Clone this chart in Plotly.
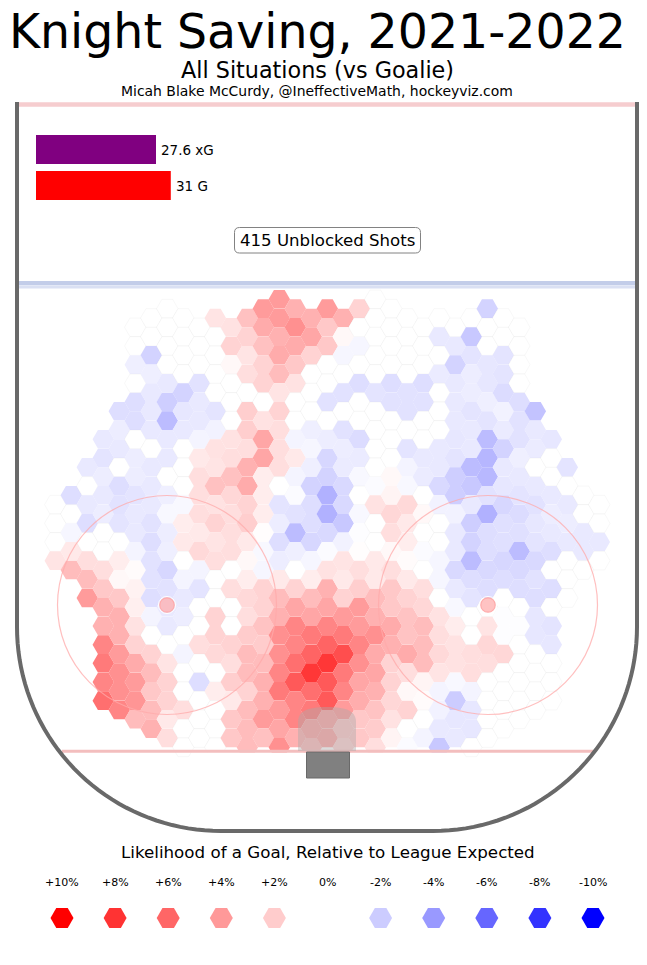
import numpy as np
import plotly.graph_objects as go

# ---------- data ----------
title = "Knight Saving, 2021-2022"
subtitle = "All Situations (vs Goalie)"
credit = "Micah Blake McCurdy, @IneffectiveMath, hockeyviz.com"
legend_title = "Likelihood of a Goal, Relative to League Expected"
shots_label = "415 Unblocked Shots"
bar_labels = ["xG", "G"]
bar_values = [27.6, 31]
bar_text = ["27.6 xG", "31 G"]
legend_values = [10, 8, 6, 4, 2, 0, -2, -4, -6, -8, -10]
legend_labels = ["+10%", "+8%", "+6%", "+4%", "+2%", "0%", "-2%", "-4%", "-6%", "-8%", "-10%"]

# columns of the hexagon grid, left to right; values are percent vs league
column_ids = list(range(-17, 18))
first_rows = [11, 10, 9, 7, 6, 1, 1, 0, 1, 1, 1, 1, 1, 0, 0, 0, 1, 0, 1, 0, 0, 0, 1, 1, 1, 1, 1, 0, 1, 1, 6, 7, 9, 10, 11]
col_m17 = [0, 0, 0, 1.2]
col_m16 = [-1.5, 0, -0.4, 1, 3.0]
col_m15 = [-1, 0, -1, -1.5, 0, 1.5, 3, 4.5]
col_m14 = [-1, -1.2, -0.8, -1, -0.8, 0, 0, 1.5, 2.5, 3.5, 3.5, 5.5, 6, 5.5, 6.5]
col_m13 = [-1.5, -0.8, -1, 0, -1.5, -1.3, -1.2, 0, 0.8, 0.3, 2.5, 3.5, 3.5, 4.5, 5, 5, 5.5]
col_m12 = [0, 0, -0.7, 0, -1.5, -1.5, 0, -0.8, -0.8, -1.2, -1, -1, -0.5, 0.2, 0.6, 0.7, 1.3, 2, 3.8, 4.5, 4.8, 3]
col_m11 = [0, 0, -2, -0.7, -1, -1, -1, 0, -1, -1, -1, -1.3, -1.5, -1.3, -1.3, -1.5, -0.5, 0, 2, 3, 2.5, 3, 3.5]
col_m10 = [0, 0, 0, 0, -1, -2.2, -3, -1, -1, 0, -0.7, -0.3, -0.8, -0.7, -1.8, -1.3, -1, -1, 0, 1.2, 2, 2, 1, 1.5]
col_m9 = [0, 0, 0, 0, -2, -1.1, -1, 0, 0, 0, -0.3, 0.8, 1, 0, -0.5, -1, -0.8, 0, -0.5, 0, 0, 1.5, 0, 0]
col_m8 = [0, 0, 0, -1.3, -1, -1, -0.5, 1, 1.5, 1.5, 1.5, 1, 1.7, -0.5, -1.2, 0, 0, 1.5, 0, -1.5, 0, 0, 0]
col_m7 = [1.2, 0, 0, 0, 0, -1.2, -0.6, 1.3, 1.2, 2.8, 1.3, 2, 1.2, 1.5, 0, 0, 2, 2, 1.7, 0, 0.8, 0, 0, 0]
col_m6 = [1.3, 2, 0.3, 0, 0, 0, 1.3, 1.5, 2.8, 1.8, 1.5, 1.5, 1.5, 0, 1.5, 0, 0, 2, 1.5, 2.2, 1, 2.5, 2.5]
col_m5 = [2.8, 2, 1.2, 1.5, 0, 2.2, 2.2, 1.5, 3.5, 3.8, 2, 2.2, 1, 0.3, 0.8, 1.7, 1.5, 2.3, 3, 3, 2, 3, 3, 3]
col_m4 = [4.5, 3.8, 2.8, 2, 2, 0, 1.3, 4, 4, 0.8, 0.8, 0.8, 0.1, -0.3, -0.4, 2, 2, 2.7, 2.3, 3, 3.5, 3.5, 4.5, 2.8]
col_m3 = [4.5, 4.5, 3.5, 3.8, 3, 1.2, 2, 1.5, 1.5, 1.5, 0, -1.2, -0.8, -1.5, -0.8, 1, 3, 3.5, 5, 5, 5.5, 6, 4.5, 4, 5]
col_m2 = [3.5, 5, 3.8, 2.5, 1.3, 0, 0, -0.5, 1, -0.5, -0.2, -1.3, -3, -0.7, 0, 2, 4, 5.5, 5.5, 6.5, 7.5, 5.5, 5.5, 3.5]
col_m1 = [3.5, 4, 2, 0, 0, 0, -0.7, -0.4, -0.7, -2, -1.5, -1.5, -1.8, -0.4, 0.8, 3, 4, 6, 7, 9, 6.5, 6, 4, 3]
col_0 = [4.5, 2.5, 2.5, 0, 0, -1.3, 0, -0.8, -1.8, -2, -3.5, -3.5, -1.7, -0.2, 1.3, 3.5, 4, 5.5, 7, 9, 7.5, 7.5, 4, 4]
col_p1 = [3.5, 0.3, -0.4, 0, -1.3, 0, -1.3, -0.8, -0.9, -1.7, -1.7, -2.5, -0.6, 1.2, 1, 2, 4.5, 6, 8, 6, 5.5, 4.5, 2.5, 2]
col_p2 = [2, 0, -0.4, 0, -1.5, 0, 0, -1.6, -0.9, -0.3, 0, -0.3, -0.1, 0.1, 1.5, 2.2, 4.5, 4.5, 5.5, 5, 4, 3.7, 2.5, 2.5]
col_p3 = [0, 0, 0, 0, 0, -1.2, 0, 0, 0, 0, -0.2, 1.3, 0, 0, 1, 1, 3, 3.5, 5, 3.8, 4, 3.5, 2.7, 2.3, 1.5]
col_p4 = [0, 0, 0, 0, -1.5, -1.3, 0, 0, 0, 0.3, 0.5, 1.8, 1.5, 0.3, 1.5, 2.5, 2.5, 3.8, 3.5, 2, 2, 1.8, 1.3, 0.5]
col_p5 = [0, 0, 0, 0, -1.3, -1.3, 0, -1.2, -0.5, -0.3, 1.7, 1, 0.8, 0.2, 1, 2, 2.7, 2.7, 3.8, 1.5, 0.3, 2, 0, -0.2]
col_p6 = [0, 0, 0, -1.5, -1.3, 0, 0, -1, -0.9, 0, 0.3, 0, -0.2, 0, 1.5, 1.8, 3, 3, 3, 0.5, 0.2, 0, -0.5]
col_p7 = [0, -1, 0, -0.9, 0, 0, 0, -1, -1, -1.7, -0.6, 0, 0, -0.4, -0.4, 0, 1.3, 1.5, 1.7, 1.2, -0.5, -0.6, -1, -2.5]
col_p8 = [0, -1, -2, -1, -1, -1, -1.1, -1.2, -2.2, -2.2, -0.6, -1, -1, -1.7, -1, -0.3, 0.8, 1.3, 1.3, -0.3, -2.3, -1.1, -1]
col_p9 = [0, -2.5, -1.2, -0.8, -0.8, -1.2, -1, -1, -3, -2.5, -1, -2.2, -2, -3, -1.5, -1.2, 0, 0, 1.5, 1.5, -0.5, -1.1, -1.1, 0]
col_p10 = [-2, 0, 0, -1.1, -1.1, -0.7, -1.2, -3, -3.3, -3.2, -1.3, -3.5, -1.5, -1.5, -1.7, -1.5, 0, 1.2, 1.8, 1.5, 0, 0, 0, 0]
col_p11 = [0, 0, -1.2, -1.2, -1.6, -0.6, -0.9, -2, -1, -1.1, -1.8, -1.4, -1.4, -1.8, -1.5, 0, -0.1, -0.1, 1.8, 0, 0, 0, 0]
col_p12 = [0, 0, 0, 0, -1.5, -1.3, -1.3, -0.7, -1, -1.2, -1.6, -1.4, -3, -1.7, -1.5, 0, -0.1, 0, 0, 0, 0, 0]
col_p13 = [-2.7, -1, -0.9, 0, -1, -1.3, -1.1, -1.2, -1.7, -1.3, -1.5, -1.1, -1.1, 0, 0, 0, 0]
col_p14 = [-1.1, 0, 0, -1, -0.8, -1, -1.5, 0, -1.5, 0, -1.2, -1.1, 0, 0, 0]
col_p15 = [-1.2, 0, -1, -0.8, -1, 0, 0, 0]
col_p16 = [0, 0, -1, -1, 0]
col_p17 = [0, 0, -1, 0]

columns = [col_m17, col_m16, col_m15, col_m14, col_m13, col_m12, col_m11, col_m10, col_m9,
           col_m8, col_m7, col_m6, col_m5, col_m4, col_m3, col_m2, col_m1, col_0, col_p1,
           col_p2, col_p3, col_p4, col_p5, col_p6, col_p7, col_p8, col_p9, col_p10, col_p11,
           col_p12, col_p13, col_p14, col_p15, col_p16, col_p17]

# ---------- scales: rink feet <-> pixels ----------
W, H = 647, 965
SX, SY = 7.294, 7.27        # px per foot
X0, Y0 = 327.0, 104.0       # px of rink centre line
COL_FT = 16.0 / SX          # hex column spacing
ROW_FT = 18.667 / SY        # hex row spacing
HEX_X0 = 0.3 / SX
HEX_Y0 = (299.3 - Y0) / SY


def px(x):
    return (x - X0) / SX


def py(y):
    return (y - Y0) / SY


hx, hy, hv = [], [], []
for k, start, vals in zip(column_ids, first_rows, columns):
    for i, v in enumerate(vals):
        row = start + i
        off = 0.5 if k % 2 == 0 else 0.0
        hx.append(HEX_X0 + k * COL_FT)
        hy.append(HEX_Y0 + (row + off) * ROW_FT)
        hv.append(v)

scale = [[0, "#0000ff"], [0.5, "#ffffff"], [1, "#ff0000"]]
edge = ["rgba(170,170,170,0.14)" if v == 0 else "rgba(0,0,0,0)" for v in hv]

fig = go.Figure()
fig.add_trace(go.Scatter(
    x=hx, y=hy, mode="markers", hoverinfo="skip", showlegend=False, cliponaxis=False,
    marker=dict(symbol="hexagon2", size=21.5, color=hv, colorscale=scale, cmin=-11.5, cmax=11.5,
                showscale=False, line=dict(color=edge, width=0.6)),
))
LEG_X0, LEG_DX, LEG_Y = 62.0, 53.1, 918.0
fig.add_trace(go.Scatter(
    x=[px(LEG_X0 + i * LEG_DX) for i in range(len(legend_values))], y=[py(LEG_Y)] * len(legend_values),
    mode="markers", hoverinfo="skip", showlegend=False, cliponaxis=False,
    marker=dict(symbol="hexagon2", size=23, color=legend_values, colorscale=scale, cmin=-10, cmax=10,
                showscale=False, line=dict(width=0)),
))
fig.add_trace(go.Bar(
    x=bar_values, y=bar_labels, orientation="h", xaxis="x2", yaxis="y2", showlegend=False,
    hoverinfo="skip", marker=dict(color=["#800080", "#ff0000"], line=dict(width=0)),
))

shapes = []
BOARD = "rgb(105,105,105)"


def line(x0, y0, x1, y1, color, width):
    shapes.append(dict(type="line", xref="x", yref="y", x0=px(x0), y0=py(y0), x1=px(x1), y1=py(y1),
                       line=dict(color=color, width=width), layer="above"))


def circle(cx, cy, r, line_color, width, fill="rgba(0,0,0,0)"):
    shapes.append(dict(type="circle", xref="x", yref="y", x0=px(cx - r), x1=px(cx + r), y0=py(cy - r), y1=py(cy + r),
                       line=dict(color=line_color, width=width), fillcolor=fill, layer="above"))


# hexagons stop at the goal line
shapes.append(dict(type="rect", xref="x", yref="y", x0=px(200), x1=px(460), y0=py(752.5), y1=py(763),
                   fillcolor="white", line=dict(width=0), layer="above"))

# centre, blue and goal lines
line(17, 104.5, 637, 104.5, "rgb(246,205,207)", 4.4)
line(19, 283, 635, 283, "rgb(195,205,233)", 4.2)
line(19, 286.8, 635, 286.8, "rgb(218,224,243)", 3.2)
line(62, 751.3, 593, 751.3, "rgb(243,190,190)", 3)

# faceoff circles and dots
for cx in (167, 488):
    circle(cx, 605, 109.5, "rgba(255,170,170,0.75)", 1.2)
    circle(cx, 605, 8.6, "rgba(255,255,255,0.9)", 1)
    circle(cx, 605, 7.2, "rgb(255,170,170)", 1.2, "rgba(255,170,170,0.7)")

# crease (translucent) and net
crease_path = ("M {a},{b} L {a},{c} C {a},{d} {e},{f} {g},{f} C {h},{f} {i},{d} {i},{c} L {i},{b} Z").format(
    a=px(298), b=py(751), c=py(722), d=py(712), e=px(306), f=py(707), g=px(327), h=px(348), i=px(356))
shapes.append(dict(type="path", xref="x", yref="y", path=crease_path, fillcolor="rgba(170,170,170,0.42)",
                   line=dict(width=0), layer="above"))
shapes.append(dict(type="rect", xref="x", yref="y", x0=px(306.5), x1=px(349.5), y0=py(752), y1=py(778),
                   fillcolor="rgb(128,128,128)", line=dict(color="rgb(105,105,105)", width=1), layer="above"))

# boards
R = 204.0
left_arc = " ".join(f"L {px(17 + R - R * np.cos(t)):.4f},{py(627 + R * np.sin(t)):.4f}"
                    for t in np.linspace(0, np.pi / 2, 40))
right_arc = " ".join(f"L {px(637 - R + R * np.sin(t)):.4f},{py(831 - R + R * np.cos(t)):.4f}"
                     for t in np.linspace(0, np.pi / 2, 40))
shapes.append(dict(type="path", xref="x", yref="y",
                   path=f"M {px(17)},{py(102)} {left_arc} {right_arc} L {px(637)},{py(102)}",
                   line=dict(color=BOARD, width=4), fillcolor="rgba(0,0,0,0)", layer="above"))

# rounded box behind the shot count
bx0, bx1, by0, by1, rr = 234.5, 420.5, 227.5, 253, 5
shapes.append(dict(type="path", xref="x", yref="y", layer="above", fillcolor="white",
                   line=dict(color="rgb(130,130,130)", width=1),
                   path=(f"M {px(bx0 + rr)},{py(by0)} L {px(bx1 - rr)},{py(by0)} Q {px(bx1)},{py(by0)} {px(bx1)},{py(by0 + rr)} "
                         f"L {px(bx1)},{py(by1 - rr)} Q {px(bx1)},{py(by1)} {px(bx1 - rr)},{py(by1)} "
                         f"L {px(bx0 + rr)},{py(by1)} Q {px(bx0)},{py(by1)} {px(bx0)},{py(by1 - rr)} "
                         f"L {px(bx0)},{py(by0 + rr)} Q {px(bx0)},{py(by0)} {px(bx0 + rr)},{py(by0)} Z")))

FONT = "DejaVu Sans"
ann = []


def text(s, x, y, size, anchor="center"):
    ann.append(dict(text=s, x=x / W, y=1 - y / H, xref="paper", yref="paper", xanchor=anchor, yanchor="middle",
                    showarrow=False, font=dict(family=FONT, size=size, color="black")))


text(title, 317, 32, 47.4)
text(subtitle, 317, 70.5, 22.3)
text(credit, 317, 90.5, 13.95)
text(shots_label, 327.5, 240, 16.6)
text(legend_title, 327.5, 852, 16.7)
for i, lab in enumerate(legend_labels):
    text(lab, LEG_X0 + i * LEG_DX, 882, 11)
for lab, val, s in zip(bar_labels, bar_values, bar_text):
    ann.append(dict(text=s, x=val, y=lab, xref="x2", yref="y2", xanchor="left", yanchor="middle", xshift=3,
                    showarrow=False, font=dict(family=FONT, size=13.5, color="black")))

fig.update_layout(
    width=W, height=H, margin=dict(l=0, r=0, t=0, b=0), autosize=False,
    paper_bgcolor="white", plot_bgcolor="rgba(0,0,0,0)", bargap=0.194,
    xaxis=dict(range=[px(0), px(W)], visible=False, domain=[0, 1], fixedrange=True),
    yaxis=dict(range=[py(H), py(0)], visible=False, domain=[0, 1], fixedrange=True),
    xaxis2=dict(range=[-36 / 4.348, (W - 36) / 4.348], visible=False, domain=[0, 1], anchor="y2", fixedrange=True),
    yaxis2=dict(autorange="reversed", visible=False, domain=[1 - 203.5 / H, 1 - 131.5 / H], anchor="x2", fixedrange=True),
    shapes=shapes, annotations=ann,
)
fig.write_html("out.html", config=dict(displayModeBar=False),
               post_script="document.body.style.margin='0';document.documentElement.style.overflow='hidden';")
